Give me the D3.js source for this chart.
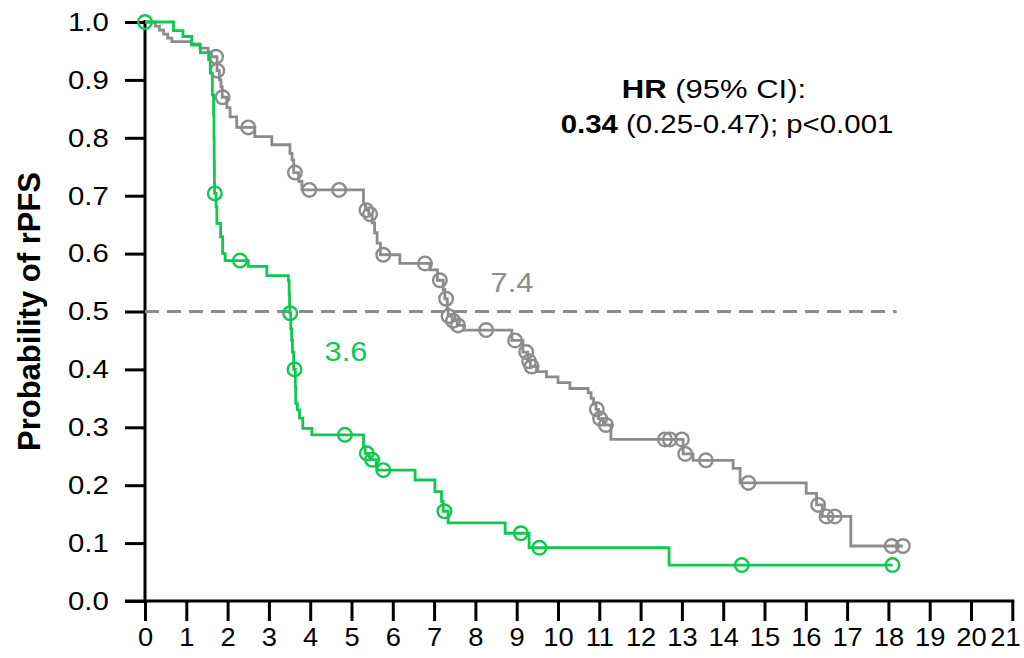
<!DOCTYPE html>
<html>
<head>
<meta charset="utf-8">
<script src="https://cdn.jsdelivr.net/npm/d3@7"></script>
<style>
  html, body { margin: 0; padding: 0; background: #fff; }
  svg { display: block; font-family: "Liberation Sans", Arial, sans-serif; }
</style>
</head>
<body>
<svg id="chart" width="1024" height="658"></svg>
<script>
// Axis ticks
const monthTicks = d3.range(0, 22);
const probTicks = [0, 0.1, 0.2, 0.3, 0.4, 0.5, 0.6, 0.7, 0.8, 0.9, 1.0];

// Green arm: event times (months) and survival after each event
const greenEventTime = [0.69, 0.92, 1.13, 1.34, 1.54, 1.58, 1.63, 1.66, 1.67, 1.675, 1.68, 1.685,
  1.72, 1.74, 1.83, 1.88, 1.94, 2.50, 2.95, 3.47, 3.49, 3.50, 3.51, 3.53, 3.55, 3.57, 3.60,
  3.64, 3.65, 3.69, 3.74, 3.82, 4.04, 5.29, 5.33, 5.43, 5.47, 5.60, 5.62, 6.54, 7.02, 7.18,
  7.22, 7.34, 8.72, 9.30, 12.69];
const greenSurvival = [0.985, 0.975, 0.960, 0.947, 0.935, 0.912, 0.874, 0.840, 0.800, 0.760, 0.720, 0.704,
  0.681, 0.652, 0.629, 0.600, 0.588, 0.578, 0.562, 0.553, 0.530, 0.510, 0.497, 0.470, 0.450, 0.430, 0.400,
  0.370, 0.341, 0.330, 0.316, 0.298, 0.287, 0.267, 0.255, 0.249, 0.244, 0.232, 0.226, 0.209, 0.189, 0.172,
  0.155, 0.135, 0.117, 0.092, 0.062];
const greenCensorTime = [0, 1.69, 2.30, 3.515, 3.62, 4.84, 5.37, 5.50, 5.77, 7.25, 9.10, 9.55, 14.45, 18.10];
const greenLastTime = 18.10;

// Grey arm
const greyEventTime = [0.25, 0.35, 0.45, 0.55, 0.65, 1.12, 1.33, 1.53, 1.61, 1.745, 1.80, 1.84, 1.87,
  1.98, 2.06, 2.22, 2.66, 3.07, 3.51, 3.56, 3.60, 3.72, 3.80, 5.29, 5.34, 5.42, 5.50, 5.56, 5.62,
  5.70, 6.17, 6.90, 7.08, 7.22, 7.26, 7.32, 7.34, 7.44, 7.56, 7.72, 8.88, 9.15, 9.27, 9.33, 9.48,
  9.72, 10.00, 10.29, 10.73, 10.80, 10.86, 10.92, 10.98, 11.10, 11.28, 13.03, 13.27, 14.24, 14.41,
  16.01, 16.26, 16.40, 17.09];
const greySurvival = [0.993, 0.986, 0.979, 0.972, 0.966, 0.962, 0.955, 0.948, 0.940, 0.916, 0.900, 0.888, 0.870,
  0.852, 0.836, 0.818, 0.802, 0.788, 0.773, 0.762, 0.740, 0.725, 0.710, 0.685, 0.675, 0.668, 0.653, 0.636, 0.618,
  0.598, 0.583, 0.572, 0.554, 0.538, 0.522, 0.505, 0.492, 0.484, 0.476, 0.468, 0.450, 0.430, 0.414, 0.405, 0.396,
  0.387, 0.377, 0.367, 0.360, 0.350, 0.340, 0.331, 0.315, 0.304, 0.279, 0.254, 0.243, 0.229, 0.204,
  0.186, 0.166, 0.146, 0.095];
const greyCensorTime = [1.72, 1.75, 1.88, 2.50, 3.63, 3.98, 4.70, 5.36, 5.45, 5.77, 6.78, 7.14, 7.29, 7.35,
  7.46, 7.58, 8.26, 8.96, 9.23, 9.30, 9.36, 10.94, 11.02, 11.16, 12.59, 12.71, 13.00, 13.08, 13.58,
  14.61, 16.30, 16.50, 16.70, 18.08, 18.35];
const greyLastTime = 18.35;

// Medians and summary text
const medianLevel = 0.5;
const medianLineEnd = 18.2;
const greenMedianLabel = "3.6";
const greyMedianLabel = "7.4";

const GREEN = "#10c850";
const GREY = "#8c8c8c";
const TEXT_STRETCH = 1.13;

const svg = d3.select("#chart");
const x = d3.scaleLinear().domain([0, 21]).range([145, 1012.3]);
const y = d3.scaleLinear().domain([0, 1]).range([601, 22]);

// Axes
const xAxis = d3.axisBottom(x).tickValues(monthTicks).tickSize(20).tickSizeOuter(0).tickPadding(7)
  .tickFormat(d3.format("d"));
const yAxis = d3.axisLeft(y).tickValues(probTicks).tickSize(20).tickSizeOuter(0).tickPadding(12)
  .tickFormat(d3.format(".1f"));

const gx = svg.append("g").attr("transform", `translate(0,${y(0)})`).call(xAxis);
const gy = svg.append("g").attr("transform", `translate(${x(0)},0)`).call(yAxis);

[gx, gy].forEach(g => {
  g.select(".domain").attr("stroke", "#000").attr("stroke-width", 3);
  g.selectAll(".tick line").attr("stroke", "#000").attr("stroke-width", 3);
  g.selectAll(".tick text").attr("fill", "#000").attr("font-size", 26)
    .attr("font-family", "Liberation Sans, Arial, sans-serif");
});
gx.select(".domain").attr("d", `M${x(0) - 20},0H${x(21) + 2}`);
gy.select(".domain").attr("d", `M0,${y(1) - 2}V${y(0)}`);
gx.selectAll(".tick text").attr("transform", `scale(1.05,1)`)
  .attr("dx", d => d === 21 ? -7 : 0);
gy.selectAll(".tick text").attr("transform", `scale(${TEXT_STRETCH},1)`);

// Y axis title
svg.append("text")
  .attr("transform", `translate(40,${y(0.5)}) rotate(-90)`)
  .attr("text-anchor", "middle")
  .attr("font-size", 31).attr("font-weight", "bold").attr("fill", "#000")
  .text("Probability of rPFS");

// Median reference line
svg.append("line")
  .attr("x1", x(0)).attr("x2", x(medianLineEnd))
  .attr("y1", y(medianLevel)).attr("y2", y(medianLevel))
  .attr("stroke", GREY).attr("stroke-width", 3).attr("stroke-dasharray", "14,8");

function stepPoints(times, surv, last) {
  const pts = [[0, 1]];
  times.forEach((t, i) => pts.push([t, surv[i]]));
  pts.push([last, surv[surv.length - 1]]);
  return pts;
}
function survivalAt(times, surv, t) {
  let s = 1;
  for (let i = 0; i < times.length; i++) { if (times[i] <= t) s = surv[i]; else break; }
  return s;
}
const line = d3.line().x(d => x(d[0])).y(d => y(d[1])).curve(d3.curveStepAfter);

function drawArm(times, surv, censors, last, color) {
  const g = svg.append("g");
  g.append("path").datum(stepPoints(times, surv, last))
    .attr("d", line).attr("fill", "none").attr("stroke", color).attr("stroke-width", 2.8);
  g.selectAll("circle").data(censors).join("circle")
    .attr("cx", d => x(d)).attr("cy", d => y(survivalAt(times, surv, d)))
    .attr("r", 6.8).attr("fill", "none").attr("stroke", color).attr("stroke-width", 2.4);
}
drawArm(greyEventTime, greySurvival, greyCensorTime, greyLastTime, GREY);
drawArm(greenEventTime, greenSurvival, greenCensorTime, greenLastTime, GREEN);

// Median labels
function stretchedText(cx, baseline, size, color, stretch) {
  return svg.append("text")
    .attr("transform", `translate(${cx},${baseline}) scale(${stretch},1)`)
    .attr("text-anchor", "middle").attr("font-size", size).attr("fill", color);
}
stretchedText(346, 361, 28, GREEN, 1.1).text(greenMedianLabel);
stretchedText(512, 292, 28, GREY, 1.1).text(greyMedianLabel);

// Hazard ratio annotation
const hr1 = stretchedText(714, 98, 26.5, "#000", 1.17);
hr1.append("tspan").attr("font-weight", "bold").text("HR");
hr1.append("tspan").text(" (95% CI):");
const hr2 = stretchedText(727, 133, 26.5, "#000", 1.11);
hr2.append("tspan").attr("font-weight", "bold").text("0.34");
hr2.append("tspan").text(" (0.25-0.47); p<0.001");
</script>
</body>
</html>
